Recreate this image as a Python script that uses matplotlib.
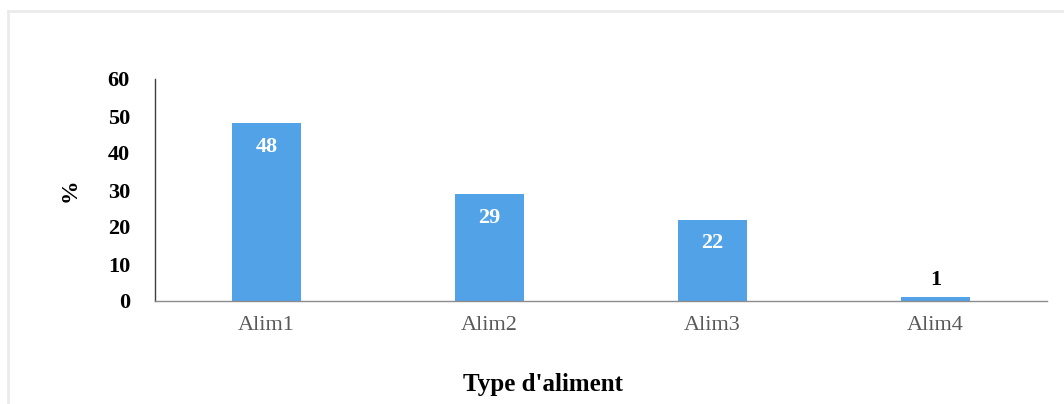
import matplotlib.pyplot as plt
from matplotlib.lines import Line2D

categories = ['Alim1', 'Alim2', 'Alim3', 'Alim4']
percentages = [48, 29, 22, 1]
y_ticks = [0, 10, 20, 30, 40, 50, 60]

bar_color = '#52A2E8'
serif = ['Liberation Serif', 'DejaVu Serif']

fig = plt.figure(figsize=(10.64, 4.04), dpi=100)
ax = fig.add_axes([155 / 1064, 1 - 301 / 404, 892 / 1064, 222 / 404])

x = range(len(categories))
bars = ax.bar(x, percentages, width=0.31, color=bar_color)

ax.set_xlim(-0.5, len(categories) - 0.5)
ax.set_ylim(0, 60)
ax.set_yticks(y_ticks)
ax.set_yticklabels([str(t) for t in y_ticks], family=serif, fontsize=16,
                   fontweight='bold', color='black')
ax.set_xticks(list(x))
ax.set_xticklabels(categories, family=serif, fontsize=16, color='#595959')
ax.tick_params(axis='y', length=0, pad=18)
ax.tick_params(axis='x', length=0, pad=11)

for side in ['top', 'right']:
    ax.spines[side].set_visible(False)
ax.spines['left'].set_color('#404040')
ax.spines['left'].set_linewidth(1.0)
ax.spines['bottom'].set_color('#8c8c8c')
ax.spines['bottom'].set_linewidth(1.0)

# value labels: white inside the tall bars, black above the tiny one
for bar, val in zip(bars, percentages):
    cx = bar.get_x() + bar.get_width() / 2
    if val > 5:
        ax.annotate(str(val), (cx, val), xytext=(0, -10), textcoords='offset points',
                    ha='center', va='top', family=serif, fontsize=16,
                    fontweight='bold', color='white')
    else:
        ax.annotate(str(val), (cx, val), xytext=(0, 5), textcoords='offset points',
                    ha='center', va='bottom', family=serif, fontsize=16,
                    fontweight='bold', color='black')

fig.text(70 / 1064, 1 - 190 / 404, '%', rotation=90, ha='center', va='center',
         family=serif, fontsize=17, fontweight='bold')
fig.text(543 / 1064, 1 - 385 / 404, "Type d'aliment", ha='center', va='center',
         family=serif, fontsize=18, fontweight='bold')

# light frame along the top and left edges
fig.add_artist(Line2D([8 / 1064, 1], [1 - 11 / 404, 1 - 11 / 404],
                      transform=fig.transFigure, color='#ebebeb', lw=2))
fig.add_artist(Line2D([8 / 1064, 8 / 1064], [0, 1 - 11 / 404],
                      transform=fig.transFigure, color='#ebebeb', lw=2))

fig.savefig('out.png', dpi=100)
